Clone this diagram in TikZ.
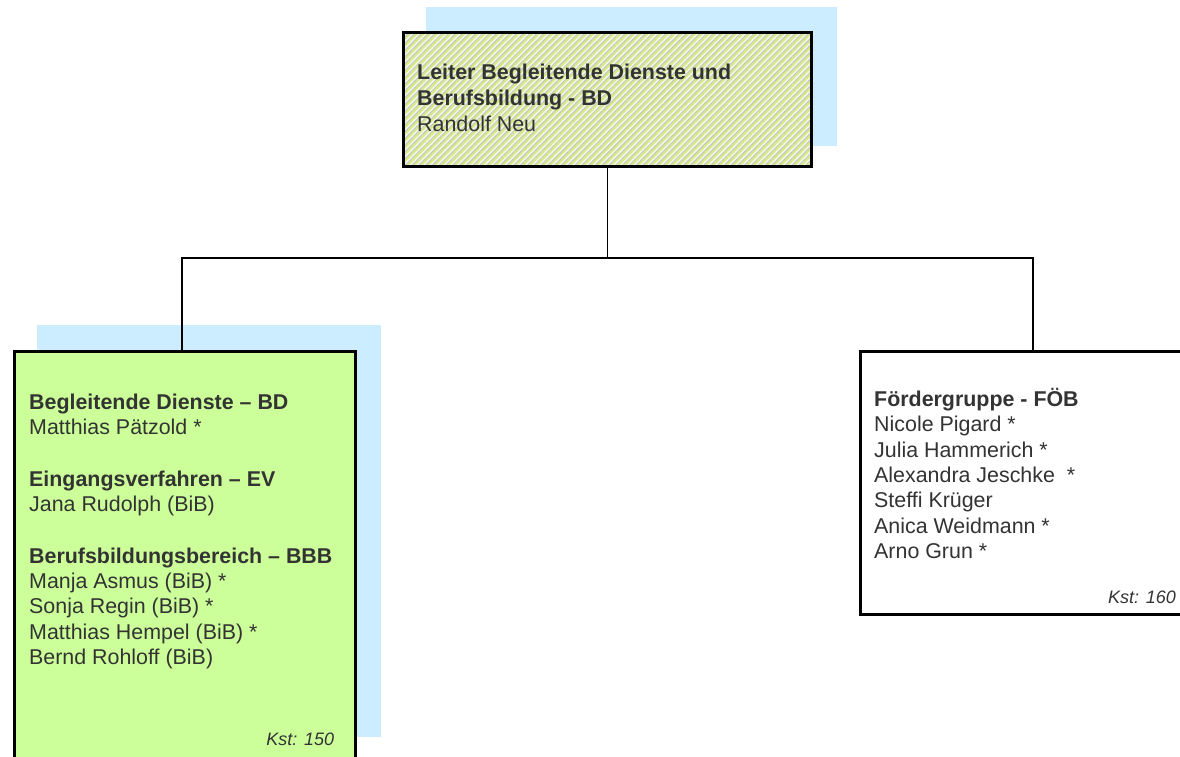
\documentclass[tikz,border=0pt]{standalone}
\usepackage{fontspec}
\setmainfont{Liberation Sans}
\usetikzlibrary{patterns.meta}
\definecolor{shadowblue}{RGB}{204,236,255}
\definecolor{boxgreen}{RGB}{204,255,153}
\definecolor{hatchbg}{RGB}{244,247,232}
\definecolor{hatchgreen}{RGB}{212,234,130}
\definecolor{hatchgray}{RGB}{196,198,186}
\definecolor{txt}{RGB}{51,51,51}
\tikzset{
  shadowbox/.style={rectangle, fill=shadowblue, draw=none, anchor=north west, inner sep=0pt, outer sep=0pt},
  unitbox/.style={rectangle, draw=black, line width=3pt, anchor=north west, inner sep=0pt, outer sep=0pt},
  conn/.style={draw=black, line width=1.3pt},
  bodytext/.style={anchor=base west, align=left, inner sep=0pt, text=txt, font=\fontsize{21.4}{25.3}\selectfont},
  ksttext/.style={inner sep=0pt, text=txt, font=\fontsize{18}{22}\selectfont\itshape}
}
\begin{document}
\begin{tikzpicture}[x=1pt,y=-1pt]
\useasboundingbox (0,0) rectangle (1180,756);
\clip (0,0) rectangle (1180,756);
\fill[white] (0,0) rectangle (1180,756);
% shadows
\node[shadowbox, minimum width=411pt, minimum height=139pt] (topshadow) at (426,7) {};
\node[shadowbox, minimum width=344pt, minimum height=412pt] (leftshadow) at (37,325) {};
% boxes
\node[unitbox, minimum width=408pt, minimum height=134pt,
  preaction={fill=hatchbg},
  preaction={pattern={Lines[angle=45,distance=4.8pt,line width=1.9pt]}, pattern color=hatchgreen},
  preaction={pattern={Lines[angle=45,distance=4.8pt,line width=1.0pt,yshift=2.2pt]}, pattern color=hatchgray}] (top) at (403.5,32.5) {};
\node[unitbox, minimum width=340.4pt, minimum height=460pt, fill=boxgreen] (left) at (14.8,351) {};
\node[unitbox, minimum width=345pt, minimum height=263.5pt, fill=white] (right) at (860.5,351) {};
% connectors
\coordinate (junc) at (607.5,258);
\draw[conn] (top.south) -- (junc);
\draw[conn] ([xshift=-3pt]left.north) |- (junc) -| (right.north);
% texts (base anchor = baseline of the last line)
\node[bodytext] (toptext) at (417,131) {\textbf{Leiter Begleitende Dienste und}\\ \textbf{Berufsbildung - BD}\\[0.7pt] Randolf Neu};
\node[bodytext] (lefttext) at (29,664.3) {\textbf{Begleitende Dienste – BD}\\ Matthias Pätzold *\\[26.3pt]
\textbf{Eingangsverfahren – EV}\\ Jana Rudolph (BiB)\\[26.3pt]
\textbf{Berufsbildungsbereich – BBB}\\ Manja Asmus (BiB) *\\ Sonja Regin (BiB) *\\ Matthias Hempel (BiB) *\\ Bernd Rohloff (BiB)};
\node[bodytext] (righttext) at (874,558.3) {\textbf{Fördergruppe - FÖB}\\ Nicole Pigard *\\ Julia Hammerich *\\ Alexandra Jeschke~ *\\ Steffi Krüger\\ Anica Weidmann *\\ Arno Grun *};
\node[ksttext, anchor=base east] (leftkst) at (334.3,745.7) {Kst: 150};
\node[ksttext, anchor=base west] (rightkst) at (1108,603.3) {Kst: 160};
\end{tikzpicture}
\end{document}
